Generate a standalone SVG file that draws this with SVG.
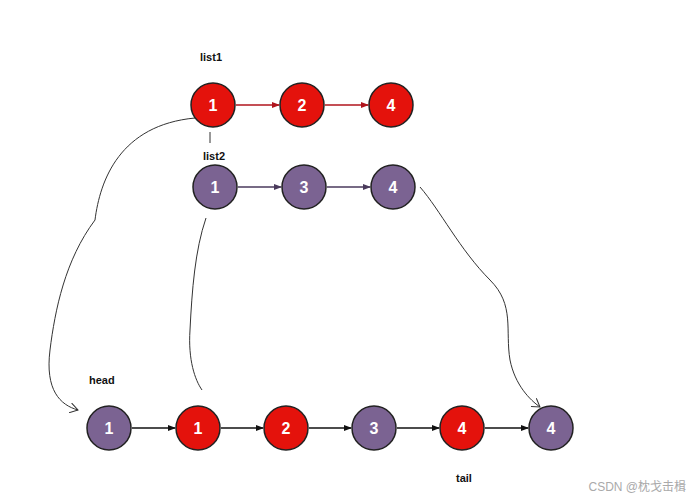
<svg xmlns="http://www.w3.org/2000/svg" width="697" height="500" viewBox="0 0 697 500">
<style>
.r{fill:#e4120c;stroke:#222;stroke-width:1.5}
.p{fill:#7b6392;stroke:#222;stroke-width:1.5}
.t{font-family:"Liberation Sans",Arial,sans-serif;font-weight:bold;font-size:16px;fill:#fff;text-anchor:middle}
.l{font-family:"Liberation Sans",Arial,sans-serif;font-weight:bold;font-size:11px;fill:#111}
.h{fill:none;stroke:#333;stroke-width:1}
</style>
<defs>
<marker id="ar" markerWidth="8" markerHeight="8" refX="7" refY="4" orient="auto" markerUnits="userSpaceOnUse"><path d="M0,1 L8,4 L0,7z" fill="#b0141c"/></marker>
<marker id="ap" markerWidth="8" markerHeight="8" refX="7" refY="4" orient="auto" markerUnits="userSpaceOnUse"><path d="M0,1 L8,4 L0,7z" fill="#4a3a5c"/></marker>
<marker id="ak" markerWidth="8" markerHeight="8" refX="7" refY="4" orient="auto" markerUnits="userSpaceOnUse"><path d="M0,1 L8,4 L0,7z" fill="#111"/></marker>
<marker id="ah" markerWidth="10" markerHeight="10" refX="8" refY="5" orient="auto" markerUnits="userSpaceOnUse"><path d="M0,0 L8,5 L0,10" fill="none" stroke="#333"/></marker>
</defs>
<rect width="697" height="500" fill="#fff"/>
<text class="l" x="200" y="61">list1</text>
<text class="l" x="203" y="160">list2</text>
<text class="l" x="89" y="384">head</text>
<text class="l" x="456" y="482">tail</text>
<g id="connectors">
<line x1="236" y1="105" x2="279" y2="105" stroke="#b0141c" stroke-width="1.5" marker-end="url(#ar)"/>
<line x1="325" y1="105" x2="368" y2="105" stroke="#b0141c" stroke-width="1.5" marker-end="url(#ar)"/>
<line x1="238" y1="187" x2="281" y2="187" stroke="#4a3a5c" stroke-width="1.5" marker-end="url(#ap)"/>
<line x1="327" y1="187" x2="370" y2="187" stroke="#4a3a5c" stroke-width="1.5" marker-end="url(#ap)"/>
<line x1="132" y1="428" x2="175" y2="428" stroke="#111" stroke-width="1.5" marker-end="url(#ak)"/>
<line x1="221" y1="428" x2="263" y2="428" stroke="#111" stroke-width="1.5" marker-end="url(#ak)"/>
<line x1="309" y1="428" x2="351" y2="428" stroke="#111" stroke-width="1.5" marker-end="url(#ak)"/>
<line x1="397" y1="428" x2="439" y2="428" stroke="#111" stroke-width="1.5" marker-end="url(#ak)"/>
<line x1="485" y1="428" x2="528" y2="428" stroke="#111" stroke-width="1.5" marker-end="url(#ak)"/>
<path class="h" d="M195,118 C120,125 100,180 95,220 C65,260 55,310 50,350 C45,390 60,405 78,410" marker-end="url(#ah)"/>
<path class="h" d="M210,132 L210,143"/>
<path class="h" d="M206,218 C195,250 192,290 190,330 C188,360 195,380 202,390"/>
<path class="h" d="M420,187 C440,210 460,250 490,280 C515,305 505,330 510,360 C515,385 530,400 540,407" marker-end="url(#ah)"/>
</g>
<g id="l1a"><circle class="r" cx="213" cy="105" r="22"/><text class="t" x="213" y="111">1</text></g>
<g id="l1b"><circle class="r" cx="302" cy="105" r="22"/><text class="t" x="302" y="111">2</text></g>
<g id="l1c"><circle class="r" cx="391" cy="105" r="22"/><text class="t" x="391" y="111">4</text></g>
<g id="l2a"><circle class="p" cx="215" cy="187" r="22"/><text class="t" x="215" y="193">1</text></g>
<g id="l2b"><circle class="p" cx="304" cy="187" r="22"/><text class="t" x="304" y="193">3</text></g>
<g id="l2c"><circle class="p" cx="393" cy="187" r="22"/><text class="t" x="393" y="193">4</text></g>
<g id="m1"><circle class="p" cx="109" cy="428" r="22"/><text class="t" x="109" y="434">1</text></g>
<g id="m2"><circle class="r" cx="198" cy="428" r="22"/><text class="t" x="198" y="434">1</text></g>
<g id="m3"><circle class="r" cx="286" cy="428" r="22"/><text class="t" x="286" y="434">2</text></g>
<g id="m4"><circle class="p" cx="374" cy="428" r="22"/><text class="t" x="374" y="434">3</text></g>
<g id="m5"><circle class="r" cx="462" cy="428" r="22"/><text class="t" x="462" y="434">4</text></g>
<g id="m6"><circle class="p" cx="551" cy="428" r="22"/><text class="t" x="551" y="434">4</text></g>
<text x="686" y="491" text-anchor="end" font-family="'Liberation Sans','Noto Sans CJK SC',sans-serif" font-size="12" fill="#aaa">CSDN @枕戈击楫</text>
</svg>
